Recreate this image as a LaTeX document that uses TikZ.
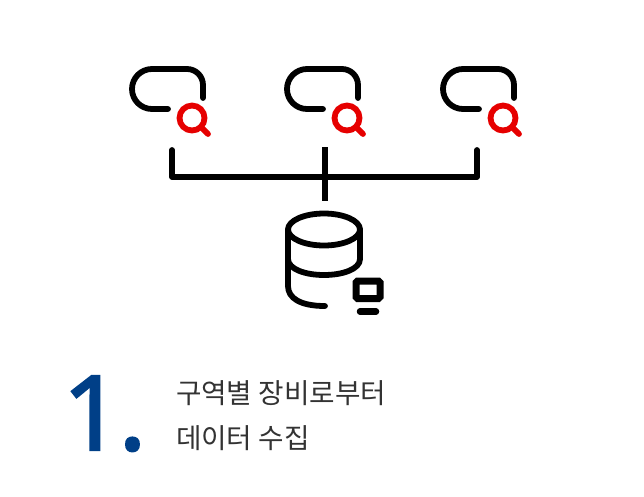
\documentclass[tikz,border=0pt]{standalone}
\usepackage{fontspec}
\setmainfont{Noto Sans CJK KR}
\newfontfamily\numfont[FakeBold=1.9]{Noto Sans}
\definecolor{navy}{HTML}{003F87}
\definecolor{red1}{HTML}{E60000}
\definecolor{txt}{HTML}{333333}
\tikzset{
  ink/.style={line width=5.8pt,line cap=round,line join=round,black},
  lens/.style={line width=5.8pt,line cap=round,red1},
  pictureflip/.style={x=1pt,y=-1pt},
  cap1/.style={anchor=base west,inner sep=0pt,outer sep=0pt,text=txt,font=\fontsize{27.7}{30}\selectfont},
  bignum/.style={anchor=base west,inner sep=0pt,outer sep=0pt,text=navy,font=\numfont\fontsize{104}{110}\selectfont}
}
\newcommand{\searchicon}[1]{%
  \begin{scope}[shift={(#1,0)}]
    \draw[ink] (203,98) -- (203,85) arc[start angle=0,end angle=90,radius=16pt] -- (152,69)
       arc[start angle=90,end angle=270,radius=20pt] -- (168,109);
    \draw[lens] (192,118) circle[radius=12.5pt];
    \draw[lens] (201,127) -- (208,134);
  \end{scope}}
\begin{document}
\begin{tikzpicture}[pictureflip]
\useasboundingbox (0,0) rectangle (644,496);
\searchicon{0}
\searchicon{155}
\searchicon{311}
\coordinate (la) at (172,150);
\coordinate (lb) at (172,177);
\coordinate (ra) at (477,150);
\coordinate (rb) at (477,177);
\coordinate (ma) at (325,147);
\coordinate (mb) at (325,201);
\draw[ink] (la) -- (lb) -- (rb) -- (ra);
\draw[ink,line cap=butt] (ma) -- (mb);
% cylinder
\draw[ink] (324,229.5) ellipse[x radius=36pt,y radius=16pt];
\draw[ink] (288,229.5) -- (288,259) .. controls (288,269) and (305,275) .. (324,275)
   .. controls (343,275) and (360,269) .. (360,259) -- (360,229.5);
\draw[ink] (288,259) -- (288,286) .. controls (288,298) and (300,306) .. (325,306);
% monitor
\draw[line width=7pt,rounded corners=1.5pt,black] (356,281) rectangle (380,298.5);
\draw[line width=6.5pt,line cap=round,black] (360,311.5) -- (376,311.5);
% text
\node[bignum] (num) at (62.5,450) {1\kern-3.5pt.};
\node[cap1] (l1) at (176,403) {구역별 장비로부터};
\node[cap1] (l2) at (176,448) {데이터 수집};
\end{tikzpicture}
\end{document}
